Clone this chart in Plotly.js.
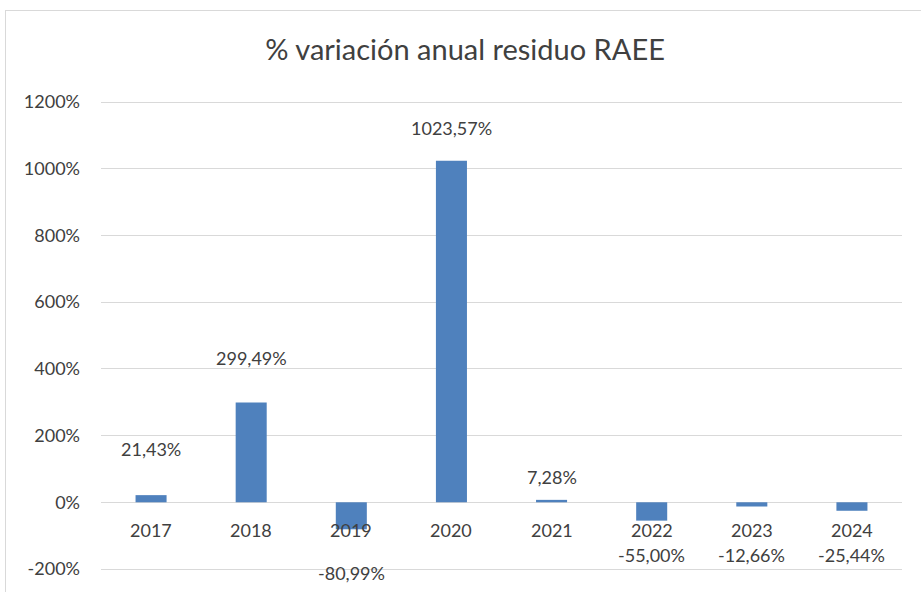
<!DOCTYPE html>
<html>
<head>
<meta charset="utf-8">
<script src="https://cdn.plot.ly/plotly-3.0.1.min.js"></script>
<style>
  html, body { margin: 0; padding: 0; background: #ffffff; }
  #frame { position: absolute; left: 5px; top: 10px; width: 940px; height: 620px; border: 1px solid #d9d9d9; box-sizing: border-box; }
  #chart { position: absolute; left: 0; top: 0; width: 921px; height: 592px; }
</style>
</head>
<body>
<div id="frame"></div>
<div id="chart"></div>
<script>
// Data
var years = ["2017", "2018", "2019", "2020", "2021", "2022", "2023", "2024"];
var variation = [21.43, 299.49, -80.99, 1023.57, 7.28, -55.00, -12.66, -25.44];
var valueLabels = ["21,43%", "299,49%", "-80,99%", "1023,57%", "7,28%", "-55,00%", "-12,66%", "-25,44%"];
var yTickVals = [-200, 0, 200, 400, 600, 800, 1000, 1200];
var yTickText = ["-200%", "0%", "200%", "400%", "600%", "800%", "1000%", "1200%"];

// Styling (label offsets in pixels from bar end)
var labelShift = [46, 44, -44, 33, 23, -34, -48, -44];
var FONT = "Lato, 'Open Sans', sans-serif";
var TEXT = "#404040";

var annotations = [];
years.forEach(function (yr, i) {
  annotations.push({
    x: i, y: 0, xref: "x", yref: "y", yshift: -28,
    text: yr, showarrow: false,
    font: { family: FONT, size: 18, color: TEXT }
  });
  annotations.push({
    x: i, y: variation[i], xref: "x", yref: "y", yshift: labelShift[i],
    text: valueLabels[i], showarrow: false,
    font: { family: FONT, size: 18, color: TEXT }
  });
});

var trace = {
  type: "bar",
  x: years,
  y: variation,
  marker: { color: "#4F81BD" },
  width: 0.31,
  hoverinfo: "skip"
};

var layout = {
  width: 921, height: 592,
  paper_bgcolor: "rgba(0,0,0,0)",
  plot_bgcolor: "rgba(0,0,0,0)",
  margin: { l: 101, r: 19, t: 100, b: 21 },
  title: {
    text: "% variación anual residuo RAEE",
    font: { family: FONT, size: 29, color: TEXT },
    x: 0.505, xanchor: "center", y: 0.915, yanchor: "middle"
  },
  showlegend: false,
  xaxis: {
    type: "category",
    range: [-0.5, 7.5],
    showticklabels: false,
    showgrid: false, zeroline: false, showline: false, ticks: ""
  },
  yaxis: {
    range: [-206, 1206],
    tickvals: yTickVals, ticktext: yTickText,
    tickfont: { family: FONT, size: 18, color: TEXT },
    showgrid: true, gridcolor: "#d9d9d9", gridwidth: 1,
    zeroline: true, zerolinecolor: "#d9d9d9", zerolinewidth: 1,
    showline: false, ticks: "", ticklen: 0,
    ticklabelstandoff: 20
  },
  annotations: annotations
};

Plotly.newPlot("chart", [trace], layout, { staticPlot: true, displayModeBar: false });
</script>
</body>
</html>
